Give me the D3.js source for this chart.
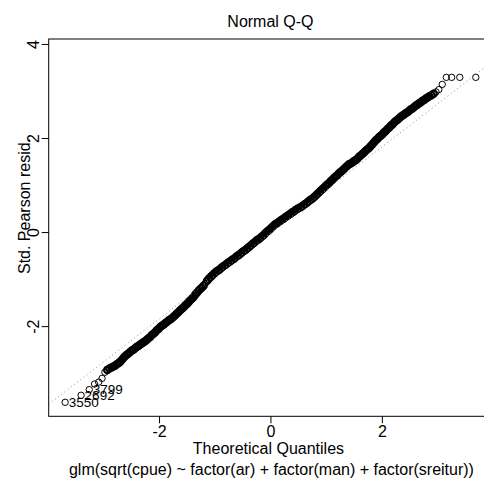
<!DOCTYPE html>
<html>
<head>
<meta charset="utf-8">
<script src="https://cdn.jsdelivr.net/npm/d3@7"></script>
<style>
html,body{margin:0;padding:0;background:#fff;}
svg{display:block;}
text{font-family:"Liberation Sans",Arial,Helvetica,sans-serif;fill:#000;}
</style>
</head>
<body>
<svg id="chart" width="484" height="482"></svg>
<script>
// ---- data ----
const theoQuantiles = [
 -3.686,-3.399,-3.253,-3.157,-3.084,-3.023,-2.972,-2.929,-2.891,-2.853,
 -2.82,-2.79,-2.76,-2.73,-2.70,-2.67,-2.64,-2.61,-2.58,-2.55,
 -2.52,-2.49,-2.46,-2.43,-2.40,-2.37,-2.34,-2.31,-2.28,-2.25,
 -2.22,-2.19,-2.16,-2.13,-2.10,-2.07,-2.04,-2.01,-1.98,-1.95,
 -1.92,-1.89,-1.86,-1.83,-1.80,-1.77,-1.74,-1.71,-1.68,-1.65,
 -1.62,-1.59,-1.56,-1.53,-1.50,-1.47,-1.44,-1.41,-1.38,-1.35,
 -1.32,-1.29,-1.26,-1.23,-1.20,-1.17,-1.14,-1.11,-1.08,-1.05,
 -1.02,-0.99,-0.96,-0.93,-0.90,-0.87,-0.84,-0.81,-0.78,-0.75,
 -0.72,-0.69,-0.66,-0.63,-0.60,-0.57,-0.54,-0.51,-0.48,-0.45,
 -0.42,-0.39,-0.36,-0.33,-0.30,-0.27,-0.24,-0.21,-0.18,-0.15,
 -0.12,-0.09,-0.06,-0.03,0.00,0.03,0.06,0.09,0.12,0.15,
 0.18,0.21,0.24,0.27,0.30,0.33,0.36,0.39,0.42,0.45,
 0.48,0.51,0.54,0.57,0.60,0.63,0.66,0.69,0.72,0.75,
 0.78,0.81,0.84,0.87,0.90,0.93,0.96,0.99,1.02,1.05,
 1.08,1.11,1.14,1.17,1.20,1.23,1.26,1.29,1.32,1.35,
 1.38,1.41,1.44,1.47,1.50,1.53,1.56,1.59,1.62,1.65,
 1.68,1.71,1.74,1.77,1.80,1.83,1.86,1.89,1.92,1.95,
 1.98,2.01,2.04,2.07,2.10,2.13,2.16,2.19,2.22,2.25,
 2.28,2.31,2.34,2.37,2.40,2.43,2.46,2.49,2.52,2.55,
 2.58,2.61,2.64,2.67,2.70,2.73,2.76,2.79,2.82,
 2.853,2.891,2.929,2.972,3.023,3.084,3.157,3.253,3.399,3.686
];
const stdResiduals = [
 -3.62,-3.47,-3.35,-3.23,-3.19,-3.11,-2.98,-2.93,-2.90,-2.88,
 -2.86,-2.84,-2.81,-2.79,-2.76,-2.72,-2.68,-2.64,-2.61,-2.58,
 -2.55,-2.52,-2.50,-2.47,-2.44,-2.42,-2.39,-2.37,-2.34,-2.32,
 -2.29,-2.26,-2.23,-2.19,-2.16,-2.13,-2.09,-2.06,-2.02,-1.99,
 -1.97,-1.94,-1.91,-1.88,-1.86,-1.83,-1.80,-1.77,-1.73,-1.70,
 -1.66,-1.63,-1.60,-1.56,-1.53,-1.49,-1.45,-1.42,-1.38,-1.33,
 -1.29,-1.25,-1.21,-1.18,-1.14,-1.09,-1.04,-1.00,-0.96,-0.93,
 -0.89,-0.86,-0.83,-0.81,-0.78,-0.75,-0.72,-0.70,-0.67,-0.64,
 -0.62,-0.59,-0.57,-0.54,-0.51,-0.49,-0.46,-0.43,-0.40,-0.38,
 -0.35,-0.32,-0.29,-0.26,-0.23,-0.20,-0.17,-0.15,-0.12,-0.09,
 -0.06,-0.02,0.01,0.04,0.07,0.11,0.14,0.17,0.19,0.22,
 0.24,0.27,0.29,0.32,0.34,0.37,0.39,0.42,0.44,0.47,
 0.49,0.51,0.53,0.55,0.58,0.60,0.63,0.66,0.69,0.71,
 0.74,0.77,0.81,0.84,0.88,0.91,0.94,0.98,1.01,1.04,
 1.08,1.11,1.15,1.18,1.21,1.25,1.28,1.31,1.34,1.38,
 1.41,1.44,1.46,1.48,1.51,1.53,1.56,1.60,1.63,1.66,
 1.69,1.73,1.76,1.79,1.83,1.87,1.91,1.95,1.98,2.02,
 2.05,2.08,2.12,2.15,2.19,2.22,2.26,2.29,2.33,2.36,
 2.39,2.42,2.45,2.48,2.50,2.53,2.55,2.58,2.61,2.63,
 2.66,2.69,2.71,2.74,2.76,2.79,2.81,2.84,2.86,
 2.89,2.91,2.94,2.98,3.03,3.14,3.29,3.29,3.29,3.29
];
const idLabels = ["3550", "2692", "3799"];
const idPointIndex = [0, 1, 2];
const qqLineX = [-0.6745, 0.6745];
const qqLineY = [-0.637, 0.597];
const xTicks = [-2, 0, 2];
const yTicks = [-2, 0, 2, 4];
const titleText = "Normal Q-Q";
const xLabel = "Theoretical Quantiles";
const yLabel = "Std. Pearson resid.";
const subCaption = "glm(sqrt(cpue) ~ factor(ar) + factor(man) + factor(sreitur))";

// ---- layout ----
const svg = d3.select("#chart");
svg.append("rect").attr("width", 484).attr("height", 482).attr("fill", "#fff");
const plot = {left: 48.7, right: 492.2, top: 39, bottom: 416.3};

// R-style limits: x range +4%; y range with 7.5% headroom for labels, then +4%
const xr = d3.extent(theoQuantiles);
const xpad = (xr[1] - xr[0]) * 0.04;
const yr = d3.extent(stdResiduals);
yr[1] = yr[1] + (yr[1] - yr[0]) * 0.075;
const ypad = (yr[1] - yr[0]) * 0.04;

const x = d3.scaleLinear().domain([xr[0] - xpad, xr[1] + xpad]).range([plot.left, plot.right]);
const y = d3.scaleLinear().domain([yr[0] - ypad, yr[1] + ypad]).range([plot.bottom, plot.top]);

const font = 16;

svg.append("clipPath").attr("id", "clip")
  .append("rect").attr("x", plot.left).attr("y", plot.top)
  .attr("width", plot.right - plot.left).attr("height", plot.bottom - plot.top);

// points: where the sample is dense (thousands of overlapping circles in the
// original), the outline is drawn heavier so the band renders solid
const pts = theoQuantiles.map((t, i) => ({t, r: stdResiduals[i], px: x(t), py: y(stdResiduals[i])}));
pts.forEach((p, i) => {
  const nb = [pts[i - 1], pts[i + 1]].filter(Boolean);
  p.gap = d3.min(nb, q => Math.hypot(q.px - p.px, q.py - p.py));
});
svg.append("g").attr("clip-path", "url(#clip)")
  .selectAll("circle").data(pts).join("circle")
  .attr("cx", d => d.px).attr("cy", d => d.py).attr("r", 3.2)
  .attr("fill", "none").attr("stroke", "#000")
  .attr("stroke-width", d => d.gap < 2.8 ? 2.1 : 1);

// qq line (through the quartile points, extended across the plot)
const slope = (qqLineY[1] - qqLineY[0]) / (qqLineX[1] - qqLineX[0]);
const icpt = qqLineY[0] - slope * qqLineX[0];
const xd = x.domain();
svg.append("line").attr("clip-path", "url(#clip)")
  .attr("x1", x(xd[0])).attr("y1", y(icpt + slope * xd[0]))
  .attr("x2", x(xd[1])).attr("y2", y(icpt + slope * xd[1]))
  .attr("stroke", "#8c8c8c").attr("stroke-width", 1).attr("stroke-dasharray", "1,3");

// id labels
svg.append("g").selectAll("text").data(idPointIndex).join("text")
  .attr("x", i => x(theoQuantiles[i]) + 3.5)
  .attr("y", i => y(stdResiduals[i]))
  .attr("dy", "0.36em")
  .attr("font-size", 13.5)
  .text((i, k) => idLabels[k]);

// box
svg.append("rect").attr("x", plot.left).attr("y", plot.top)
  .attr("width", plot.right - plot.left).attr("height", plot.bottom - plot.top)
  .attr("fill", "none").attr("stroke", "#000").attr("stroke-width", 1);

// x axis
const xAxis = d3.axisBottom(x).tickValues(xTicks).tickSize(7).tickPadding(2)
  .tickFormat(d => d < 0 ? "-" + Math.abs(d) : String(d));
const gx = svg.append("g").attr("transform", `translate(0,${plot.bottom})`).call(xAxis);
gx.select(".domain").remove();
gx.selectAll("line").attr("stroke", "#000");
gx.selectAll("text").attr("font-size", font).attr("fill", "#000")
  .attr("dy", null).attr("y", 21.2).attr("font-family", '"Liberation Sans",Arial,sans-serif');

// y axis
const yAxis = d3.axisLeft(y).tickValues(yTicks).tickSize(7)
  .tickFormat(d => d < 0 ? "-" + Math.abs(d) : String(d));
const gy = svg.append("g").attr("transform", `translate(${plot.left},0)`).call(yAxis);
gy.select(".domain").remove();
gy.selectAll("line").attr("stroke", "#000");
gy.selectAll("text").attr("font-size", font).attr("fill", "#000")
  .attr("font-family", '"Liberation Sans",Arial,sans-serif')
  .attr("x", null).attr("dy", null).attr("text-anchor", "middle")
  .attr("transform", "translate(-9.3,0) rotate(-90)");

// titles
const cx = (plot.left + plot.right) / 2;
svg.append("text").attr("x", cx).attr("y", 26.5).attr("text-anchor", "middle")
  .attr("font-size", font).text(titleText);
svg.append("text").attr("x", cx - 2).attr("y", 454).attr("text-anchor", "middle")
  .attr("font-size", font).text(xLabel);
svg.append("text").attr("x", cx + 1).attr("y", 474.5).attr("text-anchor", "middle")
  .attr("font-size", font).text(subCaption);
svg.append("text").attr("transform", `translate(30,206) rotate(-90)`)
  .attr("text-anchor", "middle").attr("font-size", font).text(yLabel);
</script>
</body>
</html>
